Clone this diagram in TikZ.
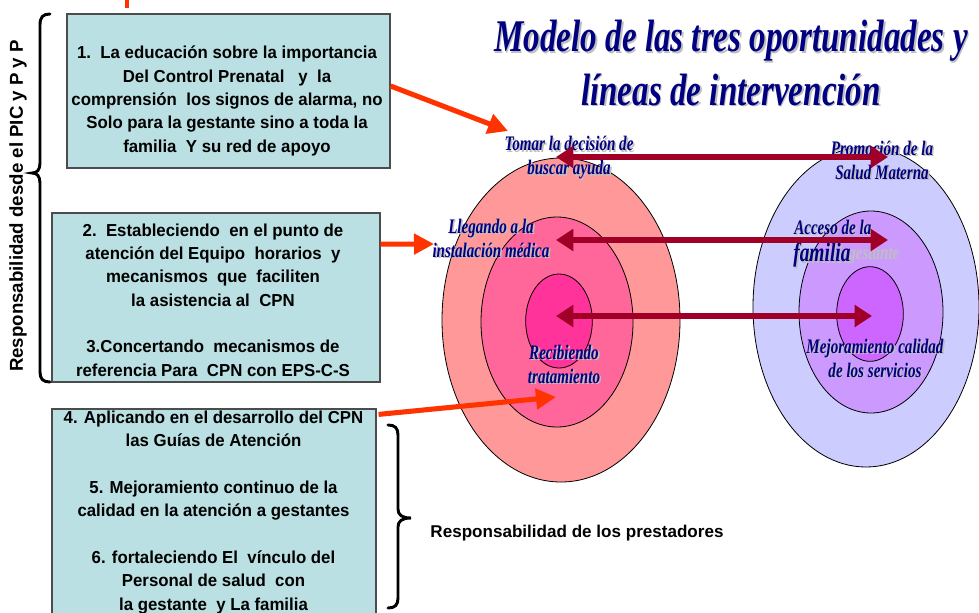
\documentclass[tikz,border=0pt]{standalone}
\usepackage{fontspec}
\setmainfont{Liberation Sans}
\newfontfamily\boxfont[FakeStretch=0.97]{Liberation Sans}
\newfontfamily\titlefont[FakeStretch=0.73]{Liberation Serif}
\usetikzlibrary{arrows.meta,shapes.geometric}
\definecolor{boxfill}{RGB}{186,224,227}
\definecolor{navy}{RGB}{0,0,128}
\definecolor{arrred}{RGB}{160,0,40}
\definecolor{orng}{RGB}{255,51,0}
\definecolor{pk1}{RGB}{255,153,153}
\definecolor{pk2}{RGB}{255,102,153}
\definecolor{pk3}{RGB}{255,51,153}
\definecolor{vl1}{RGB}{204,204,255}
\definecolor{vl2}{RGB}{204,153,255}
\definecolor{vl3}{RGB}{204,102,255}
\tikzset{
  infobox/.style={draw=black!70, line width=0.9pt, fill=boxfill, inner sep=0pt},
  boxtext/.style={align=center, inner sep=0pt, font=\fontsize{13}{17.5}\selectfont\boxfont\bfseries},
  ring/.style={ellipse, draw=black, line width=0.6pt, inner sep=0pt},
  lbl/.style={align=center, inner sep=0pt, text=navy, font=\fontsize{15.5}{18}\selectfont\titlefont\bfseries\itshape},
  ttl/.style={align=center, inner sep=0pt, text=navy, font=\fontsize{34}{40}\selectfont\titlefont\bfseries\itshape},
  orarr/.style={draw=orng, line width=3.8pt, -{Triangle[length=15pt,width=15pt]}},
  redarr/.style={draw=arrred, line width=5pt, {Triangle[length=13pt,width=16pt]}-{Triangle[length=13pt,width=16pt]}},
  bracepath/.style={draw=black, line width=2.2pt, line cap=round},
  shadowtxt/.style={text=black!25, xshift=1.2pt, yshift=-1.2pt}
}
\newcommand\shlabel[4]{%
  \node[#1, shadowtxt] at (#2) {#4};
  \node[#1] (#3) at (#2) {#4};}
\begin{document}
\begin{tikzpicture}[x=0.75pt,y=-0.75pt]
\useasboundingbox (0,0) rectangle (979,612);

% small orange mark at top
\draw[orng, line width=2.5pt] (127,0) -- (127,8);

% left boxes
\node[infobox, minimum width=242.25pt, minimum height=115.5pt] (b1) at (228.5,91) {};
\node[boxtext] (b1t) at (227,101) {1.\ \ La educación sobre la importancia\\Del Control Prenatal \ \ y\ \ la\\comprensión\ \ los signos de alarma, no\\Solo para la gestante sino a toda la\\familia\ \ Y su red de apoyo};

\node[infobox, minimum width=246pt, minimum height=126.75pt] (b2) at (216,297.5) {};
\node[boxtext] (b2t) at (213,300) {2.\ \ Estableciendo\ \ en el punto de\\atención del Equipo\ \ horarios\ \ y\\mecanismos\ \ que\ \ faciliten\\la asistencia al\ \ CPN\\[17.5pt]3.Concertando\ \ mecanismos de\\referencia Para\ \ CPN con EPS-C-S};

\node[infobox, minimum width=243pt, minimum height=159pt] (b3) at (214,515) {};
\node[boxtext] (b3t) at (213.5,512.5) {4. Aplicando en el desarrollo del CPN\\las Guías de Atención\\[17.5pt]5. Mejoramiento continuo de la\\calidad en la atención a gestantes\\[17.5pt]6. fortaleciendo El\ \ vínculo del\\Personal de salud\ \ con\\la gestante\ \ y La familia};

% braces
\draw[bracepath] (50,14) .. controls (43,14) and (40,17) .. (40,25) -- (40,163)
  .. controls (40,170) and (37,173) .. (32,173) .. controls (37,173) and (40,176) .. (40,183)
  -- (40,372) .. controls (40,379) and (43,382) .. (50,382);
\draw[bracepath] (388,425) .. controls (395,425) and (398,428) .. (398,435) -- (398,509)
  .. controls (398,515) and (402,518) .. (411,518) .. controls (402,518) and (398,521) .. (398,527)
  -- (398,598) .. controls (398,605) and (395,608) .. (388,608);

\node[rotate=90, inner sep=0pt, font=\fontsize{14}{16}\selectfont\bfseries] (lpic) at (18,206) {Responsabilidad desde el PIC y P y P};
\node[inner sep=0pt, font=\fontsize{12.8}{15}\selectfont\bfseries] (lprest) at (577,533) {Responsabilidad de los prestadores};

% title
\shlabel{ttl}{731,63}{title}{Modelo de las tres oportunidades y\\líneas de intervención}

% left rings
\node[ring, fill=pk1, minimum width=178.5pt, minimum height=243pt] (L1) at (561,320) {};
\node[ring, fill=pk2, minimum width=114pt, minimum height=157.5pt] (L2) at (557,322) {};
\node[ring, fill=pk3, minimum width=50pt, minimum height=70.5pt] (L3) at (559,321) {};

% right rings
\node[ring, fill=vl1, minimum width=169.5pt, minimum height=240pt] (R1) at (866,307) {};
\node[ring, fill=vl2, minimum width=108pt, minimum height=151.5pt] (R2) at (871,312) {};
\node[ring, fill=vl3, minimum width=50pt, minimum height=71pt] (R3) at (870,314) {};

% labels
\shlabel{lbl}{569,158}{t1}{Tomar la decisión de\\buscar ayuda}
\shlabel{lbl}{491,238}{t2}{Llegando a la\\instalación médica}
\shlabel{lbl}{564,364}{t3}{Recibiendo\\tratamiento}
\shlabel{lbl}{882,160}{t4}{Promoción de la\\Salud Materna}
\node[lbl, text=black!25, anchor=west] (ghost) at (848,256) {gestante};
\shlabel{lbl, anchor=west}{794,227}{t5}{Acceso de la}
\shlabel{lbl, anchor=west, font=\fontsize{20}{22}\selectfont\titlefont\bfseries\itshape}{793,255}{t6}{familia}
\shlabel{lbl}{875,358}{t7}{Mejoramiento calidad\\de los servicios}

% red double arrows
\coordinate (a1l) at (556,157); \coordinate (a1r) at (888,157);
\coordinate (a2l) at (556,240); \coordinate (a2r) at (888,240);
\coordinate (a3l) at (556,316); \coordinate (a3r) at (872,316);
\draw[redarr] (a1l) -- (a1r);
\draw[redarr] (a2l) -- (a2r);
\draw[redarr] (a3l) -- (a3r);

% orange arrows
\coordinate (o1) at (508,131);
\coordinate (o2) at (434,244);
\coordinate (o3) at (556,397);
\draw[orarr] ([yshift=3.75pt]b1.east) -- (o1);
\draw[orarr] ([yshift=40pt]b2.east) -- (o2);
\draw[orarr] ([yshift=-4.5pt, xshift=1.5pt]b3.north east) -- (o3);
\end{tikzpicture}
\end{document}
